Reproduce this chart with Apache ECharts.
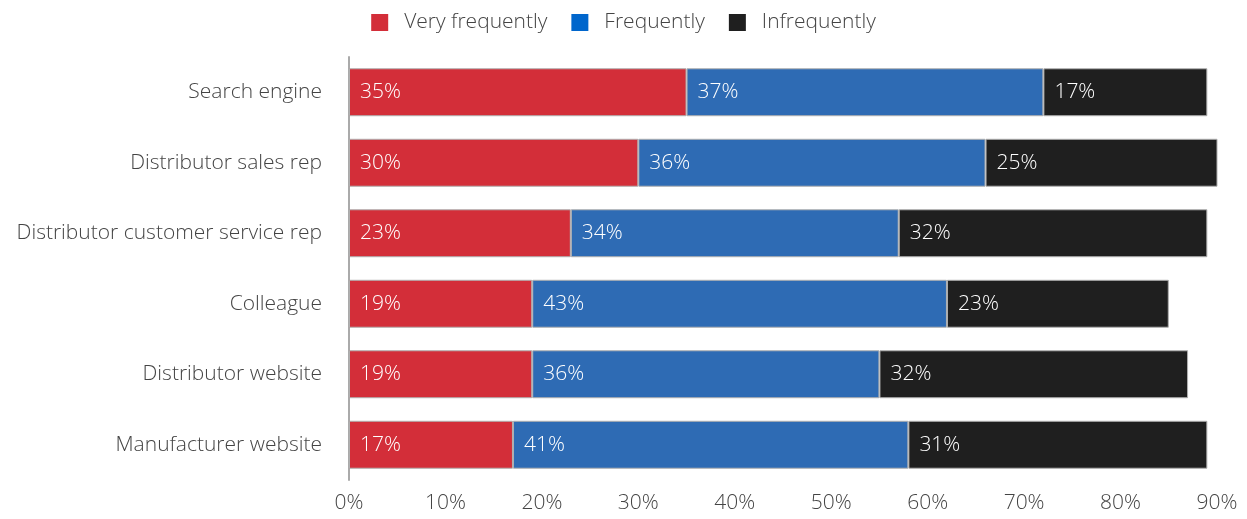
<!DOCTYPE html>
<html>
<head>
<meta charset="utf-8">
<script src="https://cdn.jsdelivr.net/npm/echarts@6/dist/echarts.min.js"></script>
<style>
  html, body { margin: 0; padding: 0; background: #fff; }
  #chart { width: 1247px; height: 519px; }
</style>
</head>
<body>
<div id="chart"></div>
<script>
// Sources used to find product information, by frequency (% of respondents)
const categories = [
  'Search engine',
  'Distributor sales rep',
  'Distributor customer service rep',
  'Colleague',
  'Distributor website',
  'Manufacturer website'
];
const veryFrequently = [35, 30, 23, 19, 19, 17];
const frequently     = [37, 36, 34, 43, 36, 41];
const infrequently   = [17, 25, 32, 23, 32, 31];
const seriesNames = ['Very frequently', 'Frequently', 'Infrequently'];

const FONT = '"Open Sans", "Noto Sans", sans-serif';
const FS = 21;
const barColors = ['#d32e39', '#2e6bb4', '#1f1f1f'];
const legendColors = ['#d32e39', '#0066cc', '#1f1f1f'];

const chart = echarts.init(document.getElementById('chart'), null, { renderer: 'canvas' });

function makeSeries(name, data, color) {
  return {
    name: name,
    type: 'bar',
    stack: 'total',
    data: data,
    barWidth: '68%',
    itemStyle: { color: color, borderColor: '#b0b0b0', borderWidth: 1 },
    label: {
      show: true,
      position: 'insideLeft',
      distance: 11,
      formatter: '{c}%',
      color: '#ffffff',
      fontFamily: FONT,
      fontWeight: 300,
      fontSize: FS
    },
    emphasis: { disabled: true },
    animation: false
  };
}

chart.setOption({
  animation: false,
  legend: {
    top: 7,
    left: 'center',
    itemWidth: 17,
    itemHeight: 17,
    itemGap: 24,
    icon: 'rect',
    textStyle: { fontFamily: FONT, fontWeight: 300, fontSize: FS, color: '#444', padding: [0, 0, 0, 11] },
    data: seriesNames.map((n, i) => ({ name: n, itemStyle: { color: legendColors[i], borderWidth: 0 } }))
  },
  grid: { left: 349, right: 30, top: 57, bottom: 39, containLabel: false },
  xAxis: {
    type: 'value',
    min: 0,
    max: 90,
    interval: 10,
    axisLine: { show: false },
    axisTick: { show: false },
    splitLine: { show: false },
    axisLabel: {
      formatter: '{value}%',
      fontFamily: FONT,
      fontWeight: 300,
      fontSize: FS,
      color: '#444',
      margin: 13
    }
  },
  yAxis: {
    type: 'category',
    data: categories,
    inverse: true,
    axisLine: { show: true, lineStyle: { color: '#aaaaaa', width: 2 } },
    axisTick: { show: false },
    axisLabel: {
      fontFamily: FONT,
      fontWeight: 300,
      fontSize: FS,
      color: '#444',
      margin: 27
    }
  },
  series: [
    makeSeries(seriesNames[0], veryFrequently, barColors[0]),
    makeSeries(seriesNames[1], frequently, barColors[1]),
    makeSeries(seriesNames[2], infrequently, barColors[2])
  ]
});
</script>
</body>
</html>
